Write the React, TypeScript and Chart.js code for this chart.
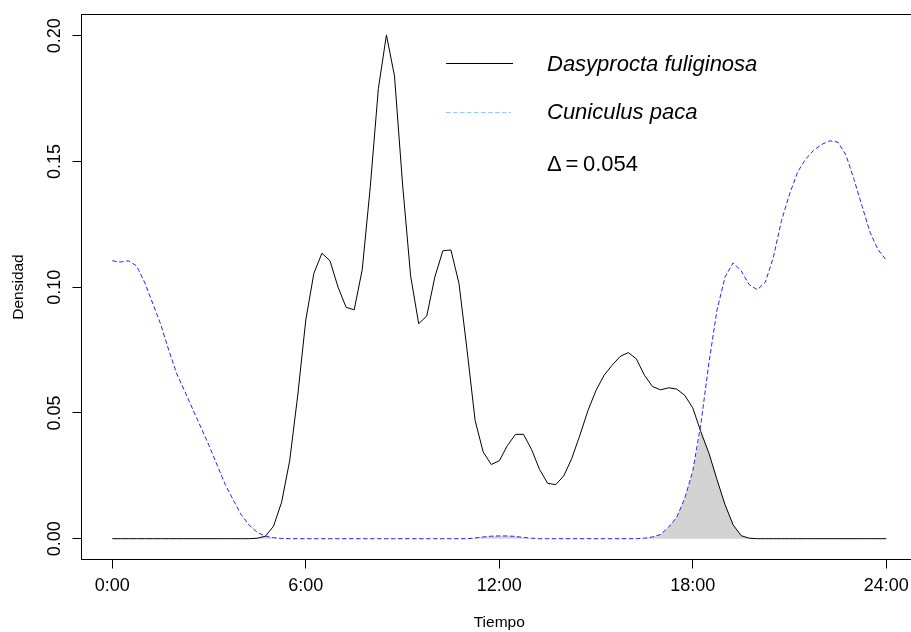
import React, { useEffect, useRef } from 'react';
import { Chart, registerables } from 'chart.js';

Chart.register(...registerables);

// Time of day (hours)
const hours = [
  0, 0.25, 0.5, 0.75, 1, 1.25, 1.5, 1.75, 2, 2.25, 2.5, 2.75,
  3, 3.25, 3.5, 3.75, 4, 4.25, 4.5, 4.75, 5, 5.25, 5.5, 5.75,
  6, 6.25, 6.5, 6.75, 7, 7.25, 7.5, 7.75, 8, 8.25, 8.5, 8.75,
  9, 9.25, 9.5, 9.75, 10, 10.25, 10.5, 10.75, 11, 11.25, 11.5, 11.75,
  12, 12.25, 12.5, 12.75, 13, 13.25, 13.5, 13.75, 14, 14.25, 14.5, 14.75,
  15, 15.25, 15.5, 15.75, 16, 16.25, 16.5, 16.75, 17, 17.25, 17.5, 17.75,
  18, 18.25, 18.5, 18.75, 19, 19.25, 19.5, 19.75, 20, 20.25, 20.5, 20.75,
  21, 21.25, 21.5, 21.75, 22, 22.25, 22.5, 22.75, 23, 23.25, 23.5, 23.75,
  24,
];

// Dasyprocta fuliginosa density
const dasyprocta = [
  0, 0, 0, 0, 0, 0, 0, 0, 0, 0, 0, 0,
  0, 0, 0, 0, 0, 0, 0.0002, 0.001, 0.005, 0.0145, 0.031, 0.057,
  0.087, 0.1055, 0.1135, 0.1105, 0.1, 0.092, 0.091, 0.107, 0.14, 0.179, 0.2003, 0.184,
  0.141, 0.1045, 0.0855, 0.0885, 0.104, 0.1145, 0.1148, 0.1015, 0.075, 0.047, 0.0345, 0.0295,
  0.031, 0.037, 0.0415, 0.0415, 0.0355, 0.0275, 0.022, 0.0215, 0.025, 0.032, 0.0412, 0.051,
  0.059, 0.065, 0.069, 0.0725, 0.074, 0.0715, 0.065, 0.0605, 0.0592, 0.06, 0.0595, 0.057,
  0.052, 0.0425, 0.034, 0.0235, 0.0135, 0.0055, 0.0012, 0.0002, 0, 0, 0, 0,
  0, 0, 0, 0, 0, 0, 0, 0, 0, 0, 0, 0,
  0,
];

// Cuniculus paca density
const cuniculus = [
  0.1105, 0.11, 0.1105, 0.1085, 0.102, 0.0937, 0.0853, 0.075, 0.0655, 0.0585, 0.0513, 0.0442,
  0.037, 0.0293, 0.0216, 0.0154, 0.0095, 0.0053, 0.0025, 0.001, 0.0004, 0.0001, 0, 0,
  0, 0, 0, 0, 0, 0, 0, 0, 0, 0, 0, 0,
  0, 0, 0, 0, 0, 0, 0, 0, 0, 0.0003, 0.0007, 0.001,
  0.0011, 0.0011, 0.0009, 0.0005, 0.0002, 0, 0, 0, 0, 0, 0, 0,
  0, 0, 0, 0, 0, 0, 0.0002, 0.0007, 0.0017, 0.0046, 0.0085, 0.016,
  0.027, 0.0456, 0.0699, 0.0909, 0.1041, 0.1097, 0.1065, 0.101, 0.099, 0.102, 0.112, 0.1265,
  0.137, 0.1458, 0.1509, 0.1545, 0.1568, 0.1582, 0.1577, 0.1525, 0.1428, 0.1322, 0.1217, 0.1148,
  0.1108,
];

const xTickValues = [0, 6, 12, 18, 24];
const xTickLabels = ['0:00', '6:00', '12:00', '18:00', '24:00'];
const yTickValues = [0, 0.05, 0.1, 0.15, 0.2];
const yTickLabels = ['0.00', '0.05', '0.10', '0.15', '0.20'];
const seriesNames = ['Dasyprocta fuliginosa', 'Cuniculus paca'];
const deltaValue = '0.054';
const xTitle = 'Tiempo';
const yTitle = 'Densidad';

const FONT = "'Liberation Sans', Arial, Helvetica, sans-serif";

export default function App() {
  const ref = useRef<HTMLCanvasElement>(null);

  useEffect(() => {
    const overlap = hours.map((h, i) => ({ x: h, y: Math.min(dasyprocta[i], cuniculus[i]) }));

    const decorPlugin = {
      id: 'decor',
      afterDraw(chart: any) {
        const { ctx, chartArea: a } = chart;
        ctx.save();
        // plot box
        ctx.strokeStyle = '#000';
        ctx.lineWidth = 1;
        ctx.setLineDash([]);
        ctx.strokeRect(a.left, a.top, a.right - a.left, a.bottom - a.top);

        // legend
        ctx.beginPath();
        ctx.moveTo(446, 63.5);
        ctx.lineTo(513, 63.5);
        ctx.strokeStyle = '#000';
        ctx.stroke();

        ctx.beginPath();
        ctx.setLineDash([4.5, 2.5]);
        ctx.moveTo(446, 112.5);
        ctx.lineTo(511, 112.5);
        ctx.strokeStyle = '#87CEFA';
        ctx.stroke();
        ctx.setLineDash([]);

        ctx.fillStyle = '#000';
        ctx.textAlign = 'left';
        ctx.textBaseline = 'alphabetic';
        ctx.font = `italic 22px ${FONT}`;
        ctx.fillText(seriesNames[0], 547, 71);
        ctx.fillText(seriesNames[1], 547, 119);
        ctx.font = `22px ${FONT}`;
        ctx.fillText('\u0394', 547, 171);
        ctx.fillText('=', 565.5, 171);
        ctx.fillText(deltaValue, 583, 171);
        ctx.restore();
      },
    };

    const chart = new Chart(ref.current as HTMLCanvasElement, {
      type: 'line',
      data: {
        datasets: [
          {
            label: seriesNames[1],
            data: hours.map((h, i) => ({ x: h, y: cuniculus[i] })),
            borderColor: '#2222ff',
            borderWidth: 1,
            borderDash: [4.5, 2.5],
            pointRadius: 0,
            fill: false,
            tension: 0,
          },
          {
            label: seriesNames[0],
            data: hours.map((h, i) => ({ x: h, y: dasyprocta[i] })),
            borderColor: '#000',
            borderWidth: 1,
            pointRadius: 0,
            fill: false,
            tension: 0,
          },
          {
            label: 'overlap',
            data: overlap,
            borderWidth: 0,
            borderColor: 'rgba(0,0,0,0)',
            backgroundColor: '#d3d3d3',
            pointRadius: 0,
            fill: 'origin',
            tension: 0,
          },
        ],
      },
      options: {
        responsive: false,
        animation: false,
        devicePixelRatio: 1,
        layout: { padding: { left: 0, top: 14.5, right: 13, bottom: 0 } },
        plugins: {
          legend: { display: false },
          tooltip: { enabled: false },
          title: { display: false },
        },
        scales: {
          x: {
            type: 'linear',
            min: -0.955,
            max: 24.952,
            afterBuildTicks: (s: any) => {
              s.ticks = xTickValues.map((v) => ({ value: v }));
            },
            afterFit: (s: any) => {
              s.height = 72.5;
            },
            ticks: {
              callback: (_v: any, i: number) => xTickLabels[i],
              font: { family: FONT, size: 18 },
              color: '#000',
              padding: 6.5,
              maxRotation: 0,
              autoSkip: false,
            },
            grid: { drawOnChartArea: false, drawTicks: true, tickLength: 9, color: '#000', lineWidth: 1 },
            border: { display: false },
            title: {
              display: true,
              text: xTitle,
              font: { family: FONT, size: 15.5 },
              color: '#000',
              padding: { top: 0, bottom: 0 },
            },
          },
          y: {
            type: 'linear',
            min: -0.00827,
            max: 0.20843,
            afterBuildTicks: (s: any) => {
              s.ticks = yTickValues.map((v) => ({ value: v }));
            },
            afterFit: (s: any) => {
              s.width = 81.5;
            },
            ticks: {
              callback: (_v: any, i: number) => yTickLabels[i],
              font: { family: FONT, size: 18 },
              color: '#000',
              padding: 0,
              minRotation: 90,
              maxRotation: 90,
              crossAlign: 'center',
              autoSkip: false,
            },
            grid: { drawOnChartArea: false, drawTicks: true, tickLength: 9, color: '#000', lineWidth: 1 },
            border: { display: false },
            title: {
              display: true,
              text: yTitle,
              font: { family: FONT, size: 15.5 },
              color: '#000',
              padding: { top: 9.6, bottom: 0 },
            },
          },
        },
      },
      plugins: [decorPlugin],
    } as any);

    return () => chart.destroy();
  }, []);

  return (
    <div
      style={{
        position: 'fixed',
        left: 0,
        top: 0,
        width: 911,
        height: 632,
        overflow: 'hidden',
        background: '#fff',
      }}
    >
      <canvas ref={ref} width={930} height={632} style={{ display: 'block', width: 930, height: 632 }} />
    </div>
  );
}
